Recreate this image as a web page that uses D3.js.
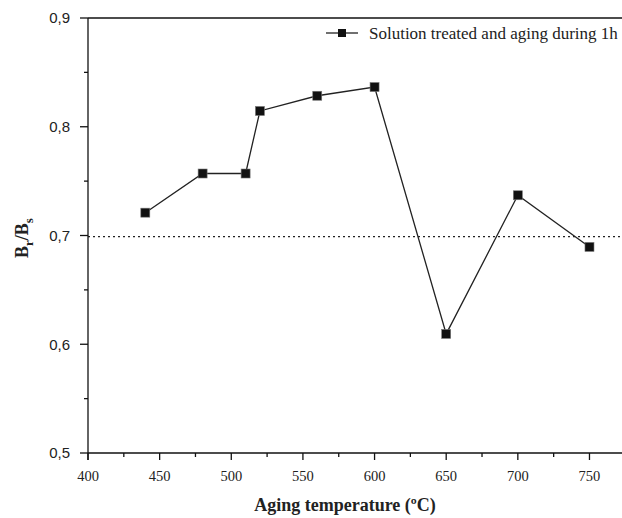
<!DOCTYPE html>
<html><head><meta charset="utf-8">
<script src="https://cdn.jsdelivr.net/npm/d3@7"></script>
<style>body{margin:0;background:#fff}svg{display:block}</style>
</head><body>
<script>
const temps = [440, 480, 510, 520, 560, 600, 650, 700, 750];
const ratio = [0.721, 0.757, 0.757, 0.8145, 0.8285, 0.8365, 0.6095, 0.737, 0.6895];
const refLevel = 0.699;
const xTicks = [400, 450, 500, 550, 600, 650, 700, 750];
const yTicks = [0.5, 0.6, 0.7, 0.8, 0.9];
const legendLabel = "Solution treated and aging during 1h";

const W = 622, H = 518;
const svg = d3.select("body").append("svg").attr("width", W).attr("height", H);
const x = d3.scaleLinear().domain([400, 772]).range([88, 621]);
const y = d3.scaleLinear().domain([0.5, 0.9]).range([453, 18]);
const serif = "'Liberation Serif','Times New Roman',serif";
const sans = "'Liberation Sans',Arial,sans-serif";

// top frame line
svg.append("line").attr("x1", x(400)).attr("x2", W).attr("y1", y(0.9)).attr("y2", y(0.9))
  .attr("stroke", "#111").attr("stroke-width", 1.3);

// reference dotted line
svg.append("line").attr("x1", x(400)).attr("x2", W).attr("y1", y(refLevel)).attr("y2", y(refLevel))
  .attr("stroke", "#222").attr("stroke-width", 1.3).attr("stroke-dasharray", "2,3");

// x axis
const xAxis = svg.append("g").attr("transform", `translate(0,${y(0.5)})`);
xAxis.append("line").attr("x1", x(400)).attr("x2", W).attr("stroke", "#111").attr("stroke-width", 1.3);
const xMinor = d3.range(425, 775, 50);
xAxis.selectAll(".xmaj").data(xTicks).enter().append("line")
  .attr("x1", d => x(d)).attr("x2", d => x(d)).attr("y1", 0).attr("y2", 7)
  .attr("stroke", "#111").attr("stroke-width", 1.3);
xAxis.selectAll(".xmin").data(xMinor).enter().append("line")
  .attr("x1", d => x(d)).attr("x2", d => x(d)).attr("y1", 0).attr("y2", 4)
  .attr("stroke", "#111").attr("stroke-width", 1.3);
xAxis.selectAll(".xl").data(xTicks).enter().append("text")
  .attr("x", d => x(d)).attr("y", 28).attr("text-anchor", "middle")
  .attr("font-family", serif).attr("font-size", 14.5).attr("fill", "#222").text(d => d);

// y axis
const yAxis = svg.append("g").attr("transform", `translate(${x(400)},0)`);
yAxis.append("line").attr("y1", y(0.9)).attr("y2", y(0.5) + 7).attr("stroke", "#111").attr("stroke-width", 1.3);
const yMinor = [0.55, 0.65, 0.75, 0.85];
yAxis.selectAll(".ymaj").data(yTicks).enter().append("line")
  .attr("y1", d => y(d)).attr("y2", d => y(d)).attr("x1", -8).attr("x2", 0)
  .attr("stroke", "#111").attr("stroke-width", 1.3);
yAxis.selectAll(".ymin").data(yMinor).enter().append("line")
  .attr("y1", d => y(d)).attr("y2", d => y(d)).attr("x1", -4).attr("x2", 0)
  .attr("stroke", "#111").attr("stroke-width", 1.3);
yAxis.selectAll(".yl").data(yTicks).enter().append("text")
  .attr("x", -18).attr("y", d => y(d)).attr("dy", "0.35em").attr("text-anchor", "end")
  .attr("font-family", sans).attr("font-size", 15).attr("fill", "#222")
  .text(d => d3.format(".1f")(d).replace(".", ","));

// data line
svg.append("path").datum(temps.map((t, i) => [t, ratio[i]]))
  .attr("d", d3.line().x(d => x(d[0])).y(d => y(d[1])))
  .attr("fill", "none").attr("stroke", "#222").attr("stroke-width", 1.3);
svg.selectAll(".pt").data(temps).enter().append("rect")
  .attr("x", (d) => x(d) - 4.5).attr("y", (d, i) => y(ratio[i]) - 4.5)
  .attr("width", 9).attr("height", 9).attr("fill", "#111").attr("stroke", "#777").attr("stroke-width", 0.6);

// legend
const lg = svg.append("g").attr("transform", "translate(326,33)");
lg.append("line").attr("x1", 0).attr("x2", 32).attr("stroke", "#222").attr("stroke-width", 1.3);
lg.append("rect").attr("x", 12).attr("y", -4).attr("width", 8).attr("height", 8).attr("fill", "#111");
lg.append("text").attr("x", 43).attr("y", 0).attr("dy", "0.35em")
  .attr("font-family", serif).attr("font-size", 17).attr("fill", "#222").text(legendLabel);

// axis titles
svg.append("text").attr("x", 345).attr("y", 511).attr("text-anchor", "middle")
  .attr("font-family", serif).attr("font-weight", "bold").attr("font-size", 18).attr("fill", "#222")
  .text("Aging temperature (ºC)");
const yt = svg.append("text").attr("transform", "translate(28,238) rotate(-90)")
  .attr("text-anchor", "middle").attr("font-family", serif).attr("font-weight", "bold")
  .attr("font-size", 18).attr("fill", "#222");
yt.append("tspan").text("B");
yt.append("tspan").attr("font-size", 13).attr("dy", 5).text("r");
yt.append("tspan").attr("dy", -5).text("/B");
yt.append("tspan").attr("font-size", 13).attr("dy", 5).text("s");
</script>
</body></html>
